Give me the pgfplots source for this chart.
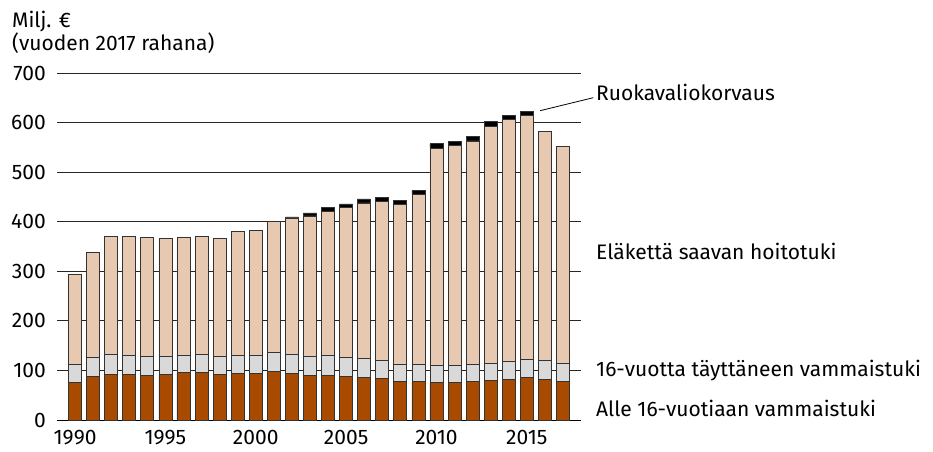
\documentclass[border=0pt]{standalone}
\usepackage{fontspec}
\setmainfont{Fira Sans}
\usepackage{pgfplots}
\pgfplotsset{compat=1.18}
\usepackage{pgfplotstable}
\definecolor{cbrown}{HTML}{A84B00}
\definecolor{cgrey}{HTML}{D9D9D9}
\definecolor{cbeige}{HTML}{E7C8B0}

\pgfplotstableread{
year alle yli hoito ruoka
1990 76.5 36.2 182.0 0
1991 88.0 38.8 211.0 0
1992 92.6 40.2 238.0 0
1993 92.0 37.5 241.5 0
1994 90.0 37.5 240.5 0
1995 92.0 36.0 239.0 0
1996 95.3 35.5 238.0 0
1997 96.6 36.2 238.0 0
1998 92.6 35.4 239.0 0
1999 94.6 36.2 249.0 0
2000 94.0 36.8 251.0 0
2001 98.0 37.6 265.6 0
2002 94.0 38.0 275.6 2
2003 90.0 38.8 283.0 6
2004 90.0 39.5 292.0 7
2005 87.3 38.2 303.5 7
2006 85.3 38.2 314.5 8
2007 83.3 36.7 320.7 8
2008 77.9 34.8 322.7 8
2009 77.2 35.5 343.0 8
2010 75.9 34.8 438.0 9
2011 75.2 34.2 444.4 9
2012 77.2 34.2 451.6 9
2013 79.2 35.5 478.0 9
2014 82.5 36.2 487.0 9
2015 85.3 37.4 491.0 9
2016 81.9 37.6 463.5 0
2017 77.2 36.2 439.3 0
}\data

\begin{document}
\begin{tikzpicture}[font=\fontsize{21}{25}\selectfont]
\path[use as bounding box] (-57pt,-31pt) rectangle (876pt,420pt);
\begin{axis}[
  at={(0pt,0pt)}, anchor=south west,
  scale only axis, width=524pt, height=347pt,
  xmin=1989, xmax=2018, ymin=0, ymax=700,
  ybar stacked, bar width=13pt,
  axis x line*=bottom, axis y line*=left,
  y axis line style={draw=none},
  x axis line style={black, line width=0.9pt, -},
  tick style={draw=none},
  xtick={1990,1995,2000,2005,2010,2015},
  ytick={0,100,...,700},
  ymajorgrids,
  grid style={black!85, line width=0.8pt},
  /pgf/number format/assume math mode=true,
  /pgf/number format/1000 sep={},
  tick label style={font=\fontsize{21}{25}\selectfont},
  yticklabel style={inner sep=0pt, anchor=east, xshift=-11pt},
  xticklabel style={inner sep=0pt, anchor=north, yshift=-10.5pt},
  every axis plot/.append style={draw=black!80, line width=0.7pt},
  clip=false,
]
\addplot[fill=cbrown] table[x=year, y=alle] {\data};
\addplot[fill=cgrey] table[x=year, y=yli] {\data};
\addplot[fill=cbeige] table[x=year, y=hoito] {\data};
\addplot[fill=black] table[x=year, y=ruoka] {\data};
\end{axis}
\node[anchor=base west, inner sep=0pt] at (-45pt,392.7pt) {Milj. €};
\node[anchor=base west, inner sep=0pt] at (-45pt,370pt) {(vuoden 2017 rahana)};
\node[anchor=base west, inner sep=0pt] at (539pt,320pt) {Ruokavaliokorvaus};
\draw[black, line width=0.8pt] (483pt,309.3pt) -- (536.3pt,322.3pt);
\node[anchor=base west, inner sep=0pt] at (539pt,160.7pt) {Eläkettä saavan hoitotuki};
\node[anchor=base west, inner sep=0pt] at (539pt,43.3pt) {16-vuotta täyttäneen vammaistuki};
\node[anchor=base west, inner sep=0pt] at (539pt,4pt) {Alle 16-vuotiaan vammaistuki};
\end{tikzpicture}
\end{document}
